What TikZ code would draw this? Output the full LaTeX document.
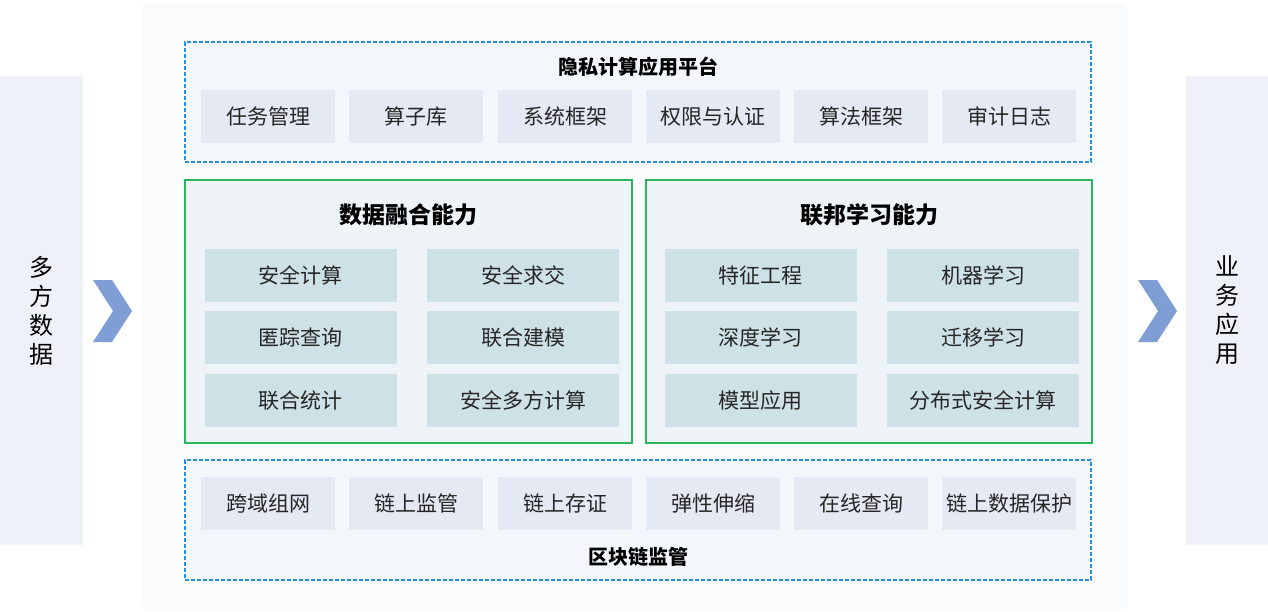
\documentclass[tikz,border=0pt]{standalone}
\usepackage{fontspec}
\setmainfont{Noto Sans CJK SC}
\begin{document}
\begin{tikzpicture}[x=1pt,y=-1pt,
  item/.style={fill=itemc,inner sep=0pt,font=\fontsize{21}{23}\selectfont,text=black!85},
  cell/.style={fill=cellc,inner sep=0pt,font=\fontsize{21}{23}\selectfont,text=black!85},
  dbox/.style={draw=dashc,dash pattern=on 4pt off 2pt,line width=1.5pt,fill=dfill},
  gbox/.style={draw=greenc,line width=1.5pt,fill=gfill},
  ttl/.style={font=\fontsize{20}{22}\selectfont\bfseries},
  bigttl/.style={font=\fontsize{23}{25}\selectfont\bfseries},
  side/.style={fill=sidec,inner sep=0pt},
  chev/.style={fill=chevc}]
\definecolor{itemc}{HTML}{E4E9F4}
\definecolor{cellc}{HTML}{CDE1E6}
\definecolor{dashc}{HTML}{2B8FE0}
\definecolor{dfill}{HTML}{F3F6FB}
\definecolor{greenc}{HTML}{2DB55D}
\definecolor{gfill}{HTML}{EDF3F7}
\definecolor{sidec}{HTML}{EEF1F8}
\definecolor{chevc}{HTML}{7F9ED6}
\definecolor{panel}{HTML}{FAFBFD}
\useasboundingbox (0,0) rectangle (1268,612);
\fill[white] (0,0) rectangle (1268,612);
\fill[panel,rounded corners=8pt] (142,2) rectangle (1128,610);
% sides
\node[side,minimum width=83,minimum height=469] (L) at (41.5,310.5) {};
\node[side,minimum width=82,minimum height=469] (R) at (1227,310.5) {};
\node[font=\fontsize{24}{29}\selectfont,align=center] (Lt) at (L) {多\\方\\数\\据};
\node[font=\fontsize{24}{29}\selectfont,align=center] (Rt) at (R) {业\\务\\应\\用};
\fill[chev] (93,280) -- (112,280) -- (132,311) -- (112,342) -- (93,342) -- (113,311) -- cycle;
\fill[chev] (1138,280) -- (1157,280) -- (1177,311) -- (1157,342) -- (1138,342) -- (1158,311) -- cycle;
% top
\node[dbox,minimum width=906,minimum height=120] (top) at (638,102) {};
\node[ttl] (topt) at (638,67) {隐私计算应用平台};
\foreach \x/\t [count=\i] in {268/任务管理,416/算子库,565/系统框架,713/权限与认证,861/算法框架,1009/审计日志}{
  \node[item,minimum width=134,minimum height=53] (t\i) at (\x,116.5) {\t};}
% green
\node[gbox,minimum width=447,minimum height=263] (g1) at (408.5,311.5) {};
\node[gbox,minimum width=446,minimum height=263] (g2) at (869,311.5) {};
\node[bigttl] (g1t) at (408.5,215) {数据融合能力};
\node[bigttl] (g2t) at (869,215) {联邦学习能力};
\foreach \x/\y/\t [count=\i] in {300.5/275.5/安全计算,523/275.5/安全求交,300.5/337.5/匿踪查询,523/337.5/联合建模,300.5/400.5/联合统计,523/400.5/安全多方计算,
 760.5/275.5/特征工程,983/275.5/机器学习,760.5/337.5/深度学习,983/337.5/迁移学习,760.5/400.5/模型应用,983/400.5/分布式安全计算}{
  \node[cell,minimum width=192,minimum height=53] (c\i) at (\x,\y) {\t};}
% bottom
\node[dbox,minimum width=906,minimum height=120] (bot) at (638,520) {};
\node[ttl] (bott) at (638,557) {区块链监管};
\foreach \x/\t [count=\i] in {268/跨域组网,416/链上监管,565/链上存证,713/弹性伸缩,861/在线查询,1009/链上数据保护}{
  \node[item,minimum width=134,minimum height=53] (b\i) at (\x,503.5) {\t};}
\end{tikzpicture}
\end{document}
